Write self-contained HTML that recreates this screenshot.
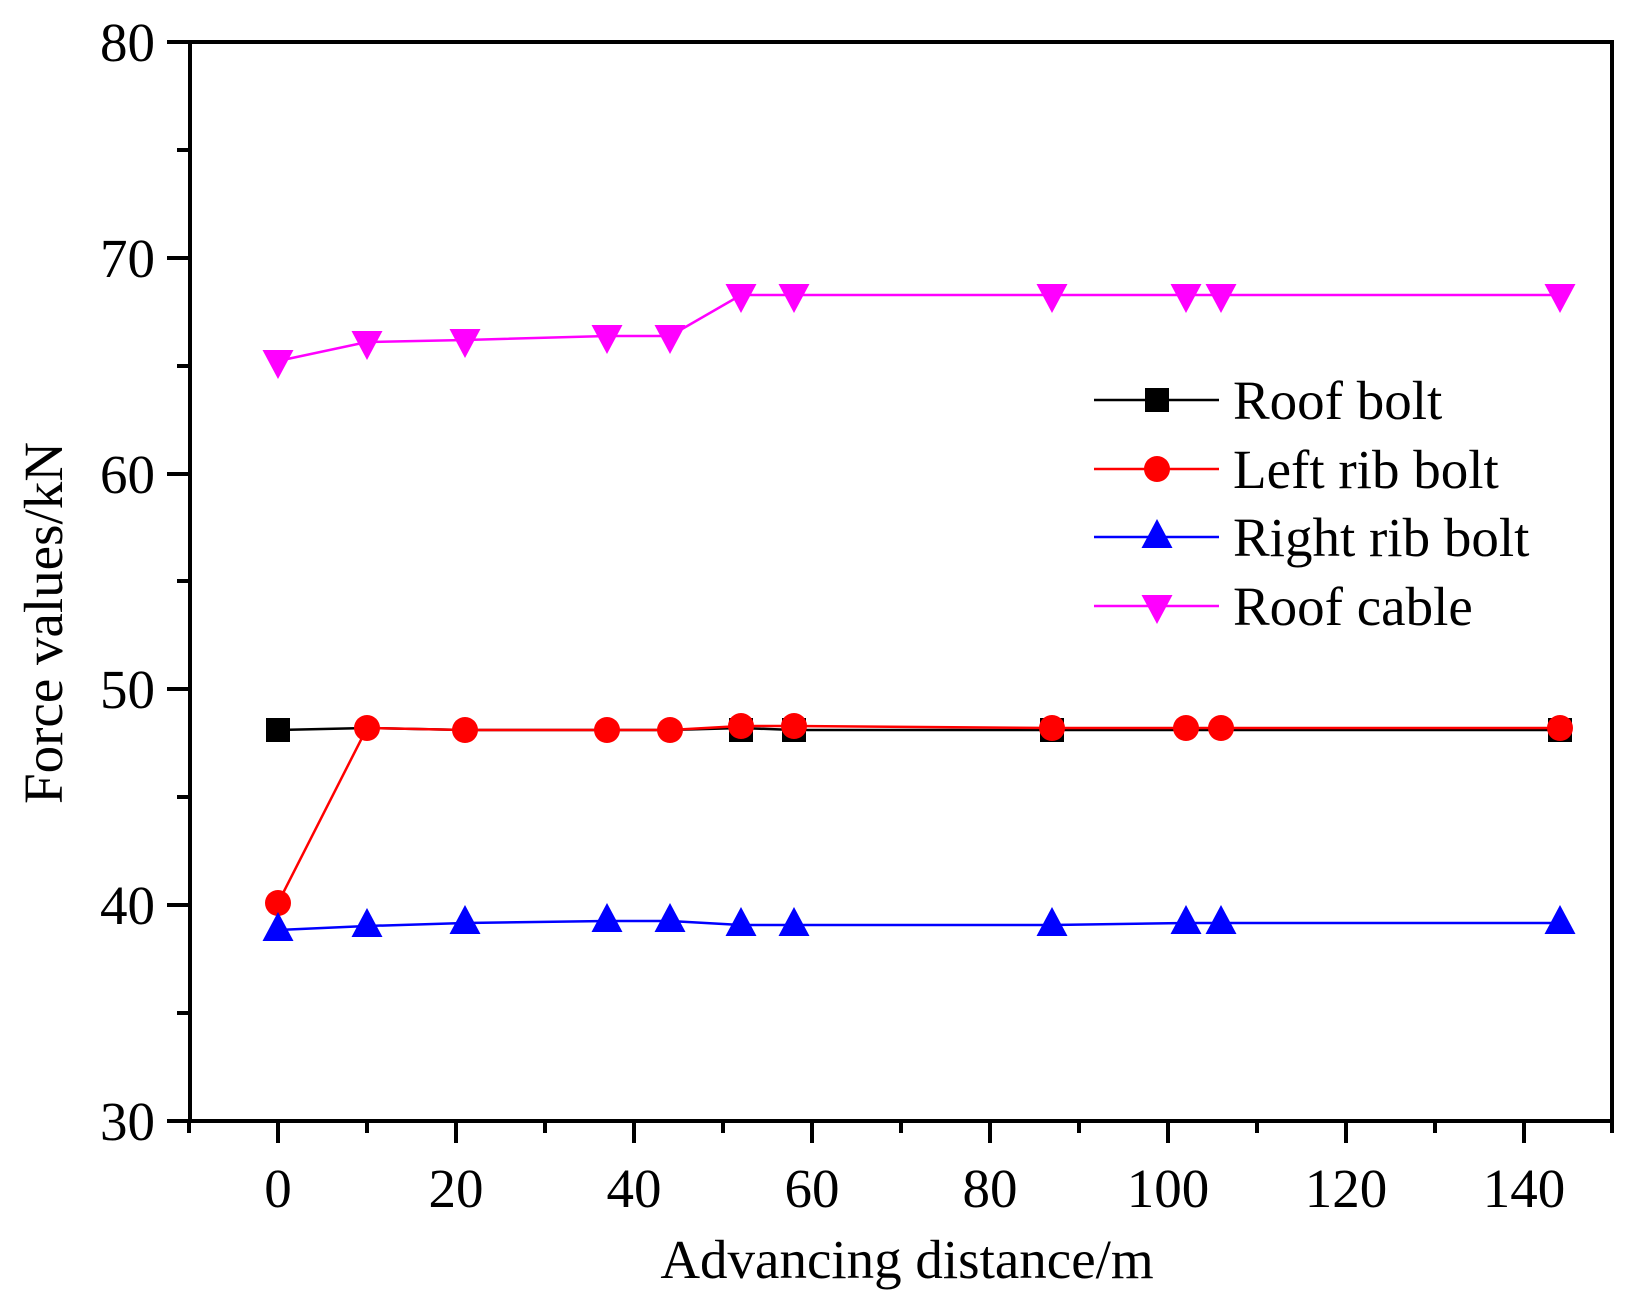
<!DOCTYPE html>
<html><head><meta charset="utf-8"><style>body{margin:0;background:#fff}svg{display:block}</style></head>
<body>
<svg width="1634" height="1304" xmlns="http://www.w3.org/2000/svg" font-family="Liberation Serif, serif">
<rect width="1634" height="1304" fill="#fff"/>
<defs>
<rect id="sq" x="-12" y="-12" width="24" height="24" fill="#000"/>
<circle id="ci" r="13" fill="#f00"/>
<polygon id="tu" points="0,-16 15.5,13 -15.5,13" fill="#00f"/>
<polygon id="td" points="0,16 15.5,-13 -15.5,-13" fill="#f0f"/>
</defs>
<g stroke="#000" stroke-width="4" fill="none">
<rect x="190" y="42" width="1422" height="1079"/>
<path d="M167,42H190M167,258H190M167,474H190M167,689H190M167,905H190M167,1121H190
M177,150H190M177,366H190M177,581H190M177,797H190M177,1013H190
M278,1121V1143M456,1121V1143M634,1121V1143M812,1121V1143M990,1121V1143M1168,1121V1143M1346,1121V1143M1524,1121V1143
M189,1121V1133M367,1121V1133M545,1121V1133M723,1121V1133M901,1121V1133M1079,1121V1133M1257,1121V1133M1435,1121V1133M1612,1121V1133"/>
</g>
<g font-size="55" text-anchor="end">
<text x="155" y="61">80</text><text x="155" y="277">70</text><text x="155" y="493">60</text>
<text x="155" y="708">50</text><text x="155" y="924">40</text><text x="155" y="1140">30</text>
</g>
<g font-size="55" text-anchor="middle">
<text x="278" y="1207">0</text><text x="456" y="1207">20</text><text x="634" y="1207">40</text><text x="812" y="1207">60</text>
<text x="990" y="1207">80</text><text x="1168" y="1207">100</text><text x="1346" y="1207">120</text><text x="1524" y="1207">140</text>
<text x="907" y="1278" font-size="55">Advancing distance/m</text>
<text transform="translate(62,623) rotate(-90)" font-size="55">Force values/kN</text>
</g>
<polyline fill="none" stroke="#000" stroke-width="2.5" points="278,730 367,728 465,730 607,730 670,730 741,728 794,730 1052,730 1186,730 1221,730 1560,730"/>
<polyline fill="none" stroke="#f00" stroke-width="2.5" points="278,903 367,728 465,730 607,730 670,730 741,726 794,726 1052,728 1186,728 1221,728 1560,728"/>
<polyline fill="none" stroke="#00f" stroke-width="2.5" points="278,930 367,926 465,923 607,921 670,921 741,925 794,925 1052,925 1186,923 1221,923 1560,923"/>
<polyline fill="none" stroke="#f0f" stroke-width="2.5" points="278,361 367,342 465,340 607,336 670,336 741,295 794,295 1052,295 1186,295 1221,295 1560,295"/>
<g>
<use href="#sq" x="278" y="730"/><use href="#sq" x="741" y="730"/><use href="#sq" x="794" y="730"/><use href="#sq" x="1052" y="730"/><use href="#sq" x="1560" y="730"/>
<use href="#ci" x="278" y="903"/><use href="#ci" x="367" y="728"/><use href="#ci" x="465" y="730"/><use href="#ci" x="607" y="730"/><use href="#ci" x="670" y="730"/><use href="#ci" x="741" y="726"/><use href="#ci" x="794" y="726"/><use href="#ci" x="1052" y="728"/><use href="#ci" x="1186" y="728"/><use href="#ci" x="1221" y="728"/><use href="#ci" x="1560" y="728"/>
<use href="#tu" x="278" y="928"/><use href="#tu" x="367" y="924"/><use href="#tu" x="465" y="921"/><use href="#tu" x="607" y="919"/><use href="#tu" x="670" y="919"/><use href="#tu" x="741" y="923"/><use href="#tu" x="794" y="923"/><use href="#tu" x="1052" y="923"/><use href="#tu" x="1186" y="921"/><use href="#tu" x="1221" y="921"/><use href="#tu" x="1560" y="921"/>
<use href="#td" x="278" y="363"/><use href="#td" x="367" y="344"/><use href="#td" x="465" y="342"/><use href="#td" x="607" y="338"/><use href="#td" x="670" y="338"/><use href="#td" x="741" y="297"/><use href="#td" x="794" y="297"/><use href="#td" x="1052" y="297"/><use href="#td" x="1186" y="297"/><use href="#td" x="1221" y="297"/><use href="#td" x="1560" y="297"/>
</g>
<g stroke-width="2.5">
<line x1="1094" y1="400" x2="1219" y2="400" stroke="#000"/>
<line x1="1094" y1="469" x2="1219" y2="469" stroke="#f00"/>
<line x1="1094" y1="537" x2="1219" y2="537" stroke="#00f"/>
<line x1="1094" y1="606" x2="1219" y2="606" stroke="#f0f"/>
</g>
<use href="#sq" x="1157" y="400"/><use href="#ci" x="1157" y="469"/><use href="#tu" x="1157" y="535"/><use href="#td" x="1157" y="608"/>
<g font-size="55">
<text x="1233" y="419">Roof bolt</text>
<text x="1233" y="488">Left rib bolt</text>
<text x="1233" y="556">Right rib bolt</text>
<text x="1233" y="625">Roof cable</text>
</g>
</svg>
</body></html>
